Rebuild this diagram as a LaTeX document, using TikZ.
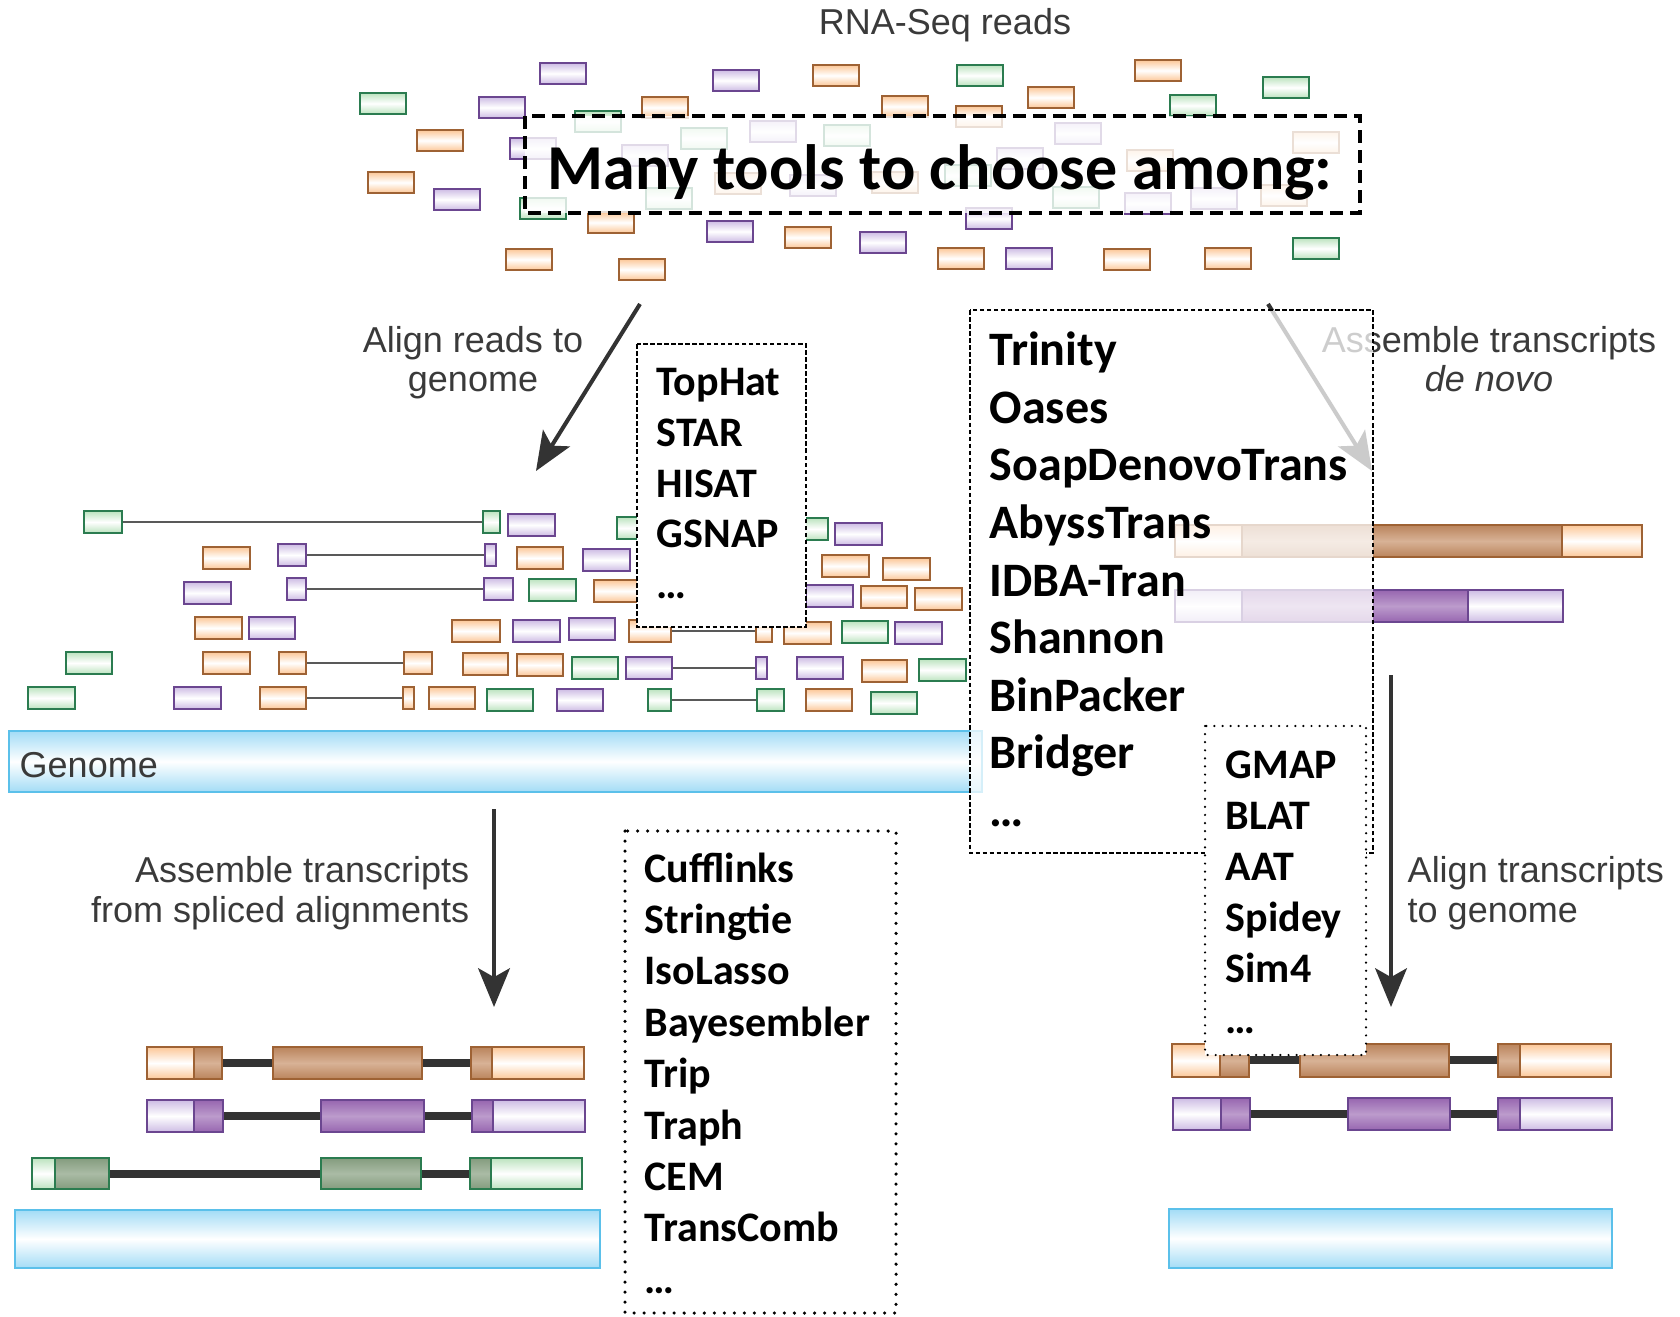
\documentclass[tikz,border=0pt]{standalone}
\usepackage{fontspec}
\setmainfont{Carlito}
\newfontfamily\arialfont{Liberation Sans}
\usetikzlibrary{arrows.meta,shadings}

\definecolor{orln}{HTML}{9E6234}
\definecolor{orlt}{HTML}{FCC797}
\definecolor{ordk}{HTML}{BA845C}
\definecolor{ordm}{HTML}{D8B296}
\definecolor{puln}{HTML}{6B4690}
\definecolor{pult}{HTML}{CDBCE4}
\definecolor{pudk}{HTML}{9766B0}
\definecolor{pudm}{HTML}{BC9BCC}
\definecolor{gnln}{HTML}{2B7C50}
\definecolor{gnlt}{HTML}{BCE3BF}
\definecolor{gndk}{HTML}{849C7E}
\definecolor{gndm}{HTML}{AABBA5}
\definecolor{dnaln}{HTML}{5BC0EA}
\definecolor{dnalt}{HTML}{A3DCF6}
\definecolor{txtgray}{HTML}{3A3A3A}
\definecolor{arrowgray}{HTML}{333333}

\tikzset{
	rdor/.style={draw=orln, line width=0.7pt, top color=orlt, bottom color=orlt, middle color=white},
	rdpu/.style={draw=puln, line width=0.7pt, top color=pult, bottom color=pult, middle color=white},
	rdgn/.style={draw=gnln, line width=0.7pt, top color=gnlt, bottom color=gnlt, middle color=white},
	cdsor/.style={draw=orln, line width=0.7pt, top color=ordk, bottom color=ordk, middle color=ordm},
	cdspu/.style={draw=puln, line width=0.7pt, top color=pudk, bottom color=pudk, middle color=pudm},
	cdsgn/.style={draw=gnln, line width=0.7pt, top color=gndk, bottom color=gndk, middle color=gndm},
	dna/.style={draw=dnaln, line width=0.7pt, top color=dnalt, bottom color=dnalt, middle color=white},
	splice/.style={draw=black!65, line width=0.6pt},
	intron/.style={draw=arrowgray, line width=2pt},
	flow/.style={draw=arrowgray, line width=1.15pt, -{Stealth[length=11pt, width=9pt, inset=2.5pt]}},
	manybox/.style={draw=black, line width=1.4pt, dash pattern=on 3.7pt off 2pt},
	thinbox/.style={draw=black, line width=0.45pt, dash pattern=on 1.3pt off 0.7pt},
	dotbox/.style={draw=black, line width=1pt, line cap=round, dash pattern=on 0pt off 2.85pt},
	smalldotbox/.style={draw=black, line width=0.7pt, line cap=round, dash pattern=on 0pt off 2.3pt},
	lbl/.style={font=\arialfont\fontsize{10.24}{12}\selectfont, text=txtgray, inner sep=0pt, anchor=base},
	headline/.style={font=\fontsize{18.2}{21}\selectfont\bfseries, inner sep=0pt, anchor=base west},
	tool/.style={font=\fontsize{11.95}{14}\selectfont\bfseries, inner sep=0pt, anchor=base west},
	asm/.style={font=\fontsize{13.66}{16}\selectfont\bfseries, inner sep=0pt, anchor=base west}
}

\begin{document}
\begin{tikzpicture}[x=0.01cm, y=-0.01cm]
	\useasboundingbox (0,0) rectangle (1680,1316);

	\node[lbl] (rnaseq) at (945,35) {RNA-Seq reads};
	\foreach \x/\y/\c in {
		417/130/rdor, 368/172/rdor, 642/97/rdor, 588/212/rdor, 506/249/rdor, 619/259/rdor,
		813/65/rdor, 785/227/rdor, 882/96/rdor, 956/106/rdor, 1028/87/rdor, 1135/60/rdor,
		938/248/rdor, 1104/249/rdor, 1205/248/rdor, 715/173/rdor, 1127/150/rdor, 1293/132/rdor,
		872/172/rdor, 1261/185/rdor,
		540/63/rdpu, 479/97/rdpu, 434/189/rdpu, 713/70/rdpu, 510/138/rdpu, 750/121/rdpu,
		622/145/rdpu, 790/175/rdpu, 707/221/rdpu, 1055/123/rdpu, 997/148/rdpu, 1125/193/rdpu,
		1191/188/rdpu, 966/208/rdpu, 860/232/rdpu, 1006/248/rdpu,
		360/93/rdgn, 575/111/rdgn, 681/128/rdgn, 824/125/rdgn, 646/188/rdgn, 520/198/rdgn,
		957/65/rdgn, 1170/95/rdgn, 1263/77/rdgn, 945/165/rdgn, 1053/187/rdgn, 1293/238/rdgn}
		\draw[\c] (\x,\y) rectangle ++(46,21);
	\draw[manybox, fill=white, fill opacity=0.8] (525,116) rectangle (1360,213);
	\node[headline] (many) at (547,190) {Many tools to choose among:};

	\foreach \xa/\wa/\xb/\wb/\y/\c in {
		84/38/483/17/511/rdgn, 278/28/485/11/544/rdpu, 287/19/484/29/578/rdpu,
		629/42/756/16/620/rdor, 279/27/404/28/652/rdor, 626/46/756/11/657/rdpu,
		260/46/403/11/687/rdor, 648/23/757/27/689/rdgn} {
		\draw[splice] (\xa+\wa,\y+11) -- (\xb,\y+11);
		\draw[\c] (\xa,\y) rectangle ++(\wa,22);
		\draw[\c] (\xb,\y) rectangle ++(\wb,22);
	}
	\foreach \x/\y/\w/\c in {
		508/514/47/rdpu, 617/517/47/rdgn, 782/518/46/rdgn, 835/523/47/rdpu,
		203/547/47/rdor, 517/547/46/rdor, 583/549/47/rdpu, 822/555/47/rdor, 883/558/47/rdor,
		184/582/47/rdpu, 529/579/47/rdgn, 594/580/47/rdor, 806/585/47/rdpu, 861/586/46/rdor, 915/588/47/rdor,
		195/617/47/rdor, 249/617/46/rdpu, 452/620/48/rdor, 513/620/47/rdpu, 569/618/46/rdpu,
		784/622/47/rdor, 842/621/46/rdgn, 895/622/47/rdpu,
		66/652/46/rdgn, 203/652/47/rdor, 463/653/45/rdor, 517/654/46/rdor, 572/657/46/rdgn,
		797/657/46/rdpu, 862/660/45/rdor, 919/659/47/rdgn,
		28/687/47/rdgn, 174/687/47/rdpu, 429/687/46/rdor, 487/689/46/rdgn, 557/689/46/rdpu,
		806/689/46/rdor, 871/692/46/rdgn}
		\draw[\c] (\x,\y) rectangle ++(\w,22);
	\draw[dna] (9,731) rectangle (982,792);
	\node[lbl, anchor=base west] (genome) at (19,777) {Genome};

	\draw[rdor] (1175,525) rectangle (1242,557);
	\draw[cdsor] (1242,525) rectangle (1562,557);
	\draw[rdor] (1562,525) rectangle (1642,557);
	\draw[rdpu] (1175,590) rectangle (1242,622);
	\draw[cdspu] (1242,590) rectangle (1468,622);
	\draw[rdpu] (1468,590) rectangle (1563,622);
	\node[lbl] (denovo1) at (1489,353) {Assemble transcripts};
	\node[lbl] (denovo2) at (1489,392) {\itshape de novo};
	\coordinate (dnA) at (1268,304);
	\coordinate (dnB) at (1372,471);
	\draw[flow] (dnA) -- (dnB);

	\draw[thinbox, fill=white, fill opacity=0.75] (970,310) rectangle (1373,853);
	\foreach \t [count=\i] in {Trinity,Oases,SoapDenovoTrans,AbyssTrans,IDBA-Tran,Shannon,BinPacker,Bridger,\dots}
		\node[asm] (asm\i) at (989,{366+57.5*(\i-1)}) {\t};

	\draw[thinbox, fill=white] (637,344) rectangle (806,627);
	\foreach \t [count=\i] in {TopHat,STAR,HISAT,GSNAP,\dots}
		\node[tool] (aln\i) at (656,{396+50.5*(\i-1)}) {\t};

	\node[lbl] (alnlbl1) at (473,353) {Align reads to};
	\node[lbl] (alnlbl2) at (473,392) {genome};
	\coordinate (alnA) at (640,304);
	\coordinate (alnB) at (536,471);
	\draw[flow] (alnA) -- (alnB);

	\coordinate (refA) at (494,809);
	\coordinate (refB) at (494,1007);
	\draw[flow] (refA) -- (refB);
	\node[lbl, anchor=base east] (reflbl1) at (470,882) {Assemble transcripts};
	\node[lbl, anchor=base east] (reflbl2) at (470,922) {from spliced alignments};

	\coordinate (mapA) at (1391,675);
	\coordinate (mapB) at (1391,1007);
	\draw[flow] (mapA) -- (mapB);
	\node[lbl, anchor=base west] (maplbl1) at (1407,882) {Align transcripts};
	\node[lbl, anchor=base west] (maplbl2) at (1407,922) {to genome};

	\draw[intron] (194,1063) -- (492,1063);
	\foreach \a/\b/\s in {147/194/rdor, 194/222/cdsor, 273/422/cdsor, 471/492/cdsor, 492/584/rdor}
		\draw[\s] (\a,1047) rectangle (\b,1079);
	\draw[intron] (194,1116) -- (493,1116);
	\foreach \a/\b/\s in {147/194/rdpu, 194/223/cdspu, 321/424/cdspu, 472/493/cdspu, 493/585/rdpu}
		\draw[\s] (\a,1100) rectangle (\b,1132);
	\draw[intron] (55,1174) -- (491,1174);
	\foreach \a/\b/\s in {32/55/rdgn, 55/109/cdsgn, 321/421/cdsgn, 470/491/cdsgn, 491/582/rdgn}
		\draw[\s] (\a,1158) rectangle (\b,1189);
	\draw[dna] (15,1210) rectangle (600,1268);

	\draw[intron] (1220,1060) -- (1520,1060);
	\foreach \a/\b/\s in {1172/1220/rdor, 1220/1249/cdsor, 1300/1449/cdsor, 1498/1520/cdsor, 1520/1611/rdor}
		\draw[\s] (\a,1044) rectangle (\b,1077);
	\draw[intron] (1221,1114) -- (1520,1114);
	\foreach \a/\b/\s in {1173/1221/rdpu, 1221/1250/cdspu, 1348/1450/cdspu, 1498/1520/cdspu, 1520/1612/rdpu}
		\draw[\s] (\a,1098) rectangle (\b,1130);
	\draw[dna] (1169,1209) rectangle (1612,1268);

	\draw[dotbox] (625,831) rectangle (896,1313);
	\foreach \t [count=\i] in {Cufflinks,Stringtie,IsoLasso,Bayesembler,Trip,Traph,CEM,TransComb,\dots}
		\node[tool] (asmref\i) at (644,{882+51.4*(\i-1)}) {\t};

	\draw[smalldotbox, fill=white] (1205,726) rectangle (1366,1055);
	\foreach \t [count=\i] in {GMAP,BLAT,AAT,Spidey,Sim4,\dots}
		\node[tool] (map\i) at (1225,{778+51*(\i-1)}) {\t};
\end{tikzpicture}
\end{document}
